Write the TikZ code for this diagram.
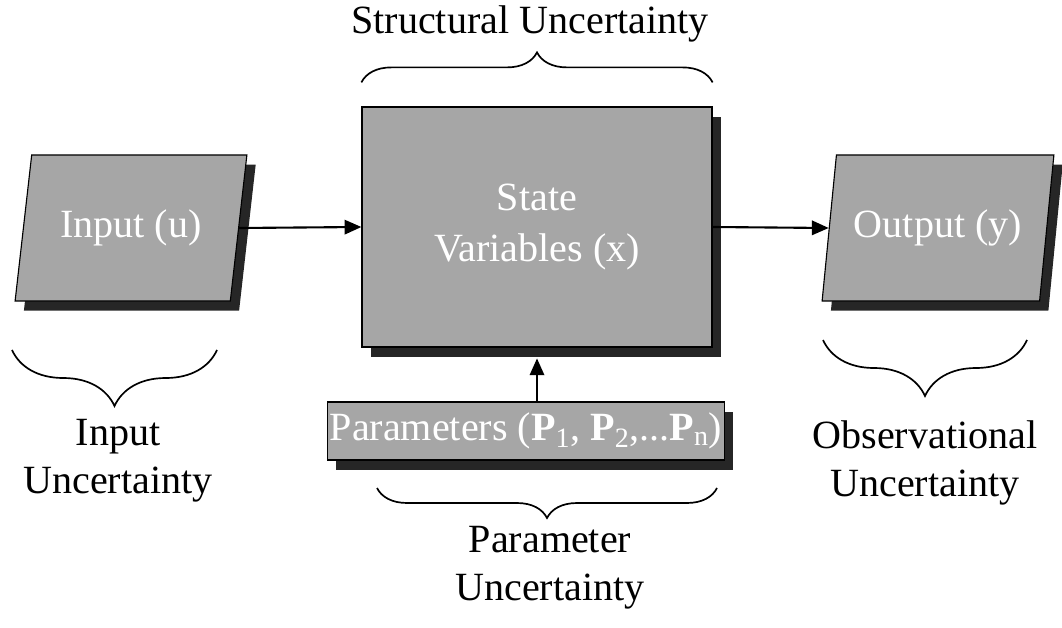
\documentclass[tikz,border=0pt]{standalone}
\usepackage{fontspec}
\setmainfont{Liberation Serif}
\usetikzlibrary{shapes.geometric,shadows,arrows.meta,decorations.pathreplacing}
\begin{document}
\begin{tikzpicture}[x=0.025cm, y=-0.025cm,
    font=\fontsize{28.5}{34}\selectfont,
    box/.style={draw=black, line width=0.8pt, fill=black!35, text=white, inner sep=0pt, align=center,
      drop shadow={shadow xshift=0.22cm, shadow yshift=-0.24cm, fill=black!85, opacity=1}},
    slanted/.style={box, trapezium, trapezium left angle=72, trapezium right angle=108,
      trapezium stretches=true, minimum width=5.8cm, minimum height=3.65cm},
    flow/.style={line width=1.5pt, -{Triangle[length=0.42cm, width=0.36cm]}},
    curly/.style={decorate, decoration={brace, amplitude=#1}, line width=1.2pt},
    lbl/.style={align=center}]
  \useasboundingbox (0,0) rectangle (1062,628);
  \node[slanted] (in) at (131,228) {Input (u)};
  \node[box, minimum width=8.75cm, minimum height=6cm, font=\fontsize{28.5}{36}\selectfont] (sv) at (537,227) {State\\Variables (x)};
  \node[slanted] (out) at (938,228) {Output (y)};
  \node[box, minimum width=9.925cm, minimum height=1.45cm] (par) at (526,431)
    {Parameters (\textbf{P}\textsubscript{1}, \textbf{P}\textsubscript{2},...\textbf{P}\textsubscript{n})};
  \draw[flow] (in.east) -- (sv.west);
  \draw[flow] (sv.east) -- (out.west);
  \draw[flow] (sv.south |- par.north) -- ([yshift=-0.27cm]sv.south);
  \draw[curly=0.75cm] ([yshift=0.6cm]sv.north west) -- ([yshift=0.6cm]sv.north east);
  \draw[curly=0.75cm] (717,488) -- (377,488);
  \draw[curly=1.4cm] (217,350) -- (12,350);
  \draw[curly=1.4cm] (1027,340) -- (823,340);
  \node[lbl] (stru) at (530,24) {Structural Uncertainty};
  \node[lbl] (inunc) at (118,461) {Input\\Uncertainty};
  \node[lbl] (parunc) at (550,568) {Parameter\\Uncertainty};
  \node[lbl] (obsunc) at (925,463) {Observational\\Uncertainty};
\end{tikzpicture}
\end{document}
